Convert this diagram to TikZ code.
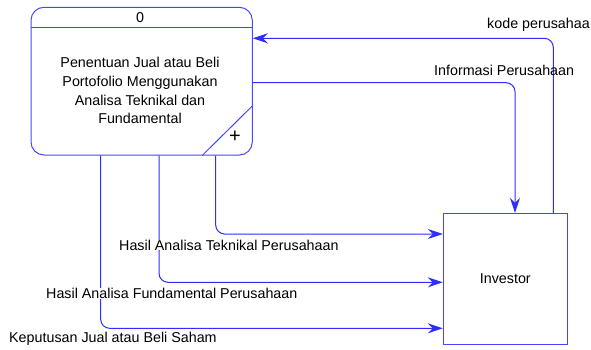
\documentclass[tikz,border=0pt]{standalone}
\usepackage{fontspec}
\setmainfont{Liberation Sans}
\usetikzlibrary{arrows.meta}
\definecolor{flowblue}{RGB}{45,45,255}
\definecolor{boxblue}{RGB}{70,70,255}
\begin{document}
\begin{tikzpicture}[x=1pt,y=-1pt,
  every node/.style={font=\fontsize{14.3}{18.9}\selectfont},
  boxline/.style={draw=boxblue,line width=1pt},
  flow/.style={draw=flowblue,line width=1pt,rounded corners=9pt,
    -{Stealth[length=15pt,width=10pt,inset=5pt]}},
  lbl/.style={anchor=west,inner sep=0pt}]
\useasboundingbox (0,0) rectangle (591,350);
% process
\node[boxline,rectangle,rounded corners=13pt,minimum width=221.3pt,minimum height=147.7pt,inner sep=0pt] (proc) at (141.65,81.15) {};
\path (proc.north west) ++(0,21) coordinate (hl);
\draw[boxline] (hl) -- (hl -| proc.east);
\node (pnum) at (140,17.5) {0};
\node[align=center,inner sep=0pt] (ptitle) at (140,90.5) {Penentuan Jual atau Beli\\Portofolio Menggunakan\\Analisa Teknikal dan\\Fundamental};
\draw[boxline] ([yshift=-98.7pt]proc.north east) -- ([xshift=-50.6pt]proc.south east);
\node[font=\fontsize{20}{20}\selectfont,inner sep=0pt] (plus) at (235,136.5) {+};
% investor
\node[boxline,rectangle,minimum width=124pt,minimum height=131pt,inner sep=0pt] (inv) at (505.3,278.8) {Investor};
% bend coordinates
\coordinate (kb) at (553.3,38.3);
\coordinate (ib) at (515,82.7);
\coordinate (tb) at (215.7,234);
\coordinate (fb) at (159,282.3);
\coordinate (jb) at (100.7,328.3);
% flows
\draw[flow] (inv.north -| kb) -- (kb) -- (proc.east |- kb);
\draw[flow] (proc.east |- ib) -- (ib) -- (inv.north -| ib);
\draw[flow] (proc.south -| tb) -- (tb) -- (inv.west |- tb);
\draw[flow] (proc.south -| fb) -- (fb) -- (inv.west |- fb);
\draw[flow] (proc.south -| jb) -- (jb) -- (inv.west |- jb);
% labels
\node[lbl] (lk) at (487,25) {kode perusahaa};
\node[lbl] (li) at (434,70) {Informasi Perusahaan};
\node[lbl,fill=white] (lt) at (119,245) {Hasil Analisa Teknikal Perusahaan};
\node[lbl,fill=white] (lf) at (46,293.3) {Hasil Analisa Fundamental Perusahaan};
\node[lbl,fill=white] (lj) at (9,339) {Keputusan Jual atau Beli Saham};
\end{tikzpicture}
\end{document}
